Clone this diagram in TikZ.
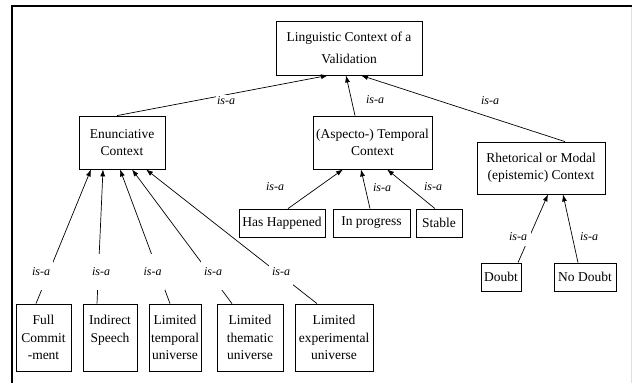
\documentclass[tikz,border=0pt]{standalone}
\usepackage{fontspec}
\setmainfont{Liberation Serif}
\usetikzlibrary{arrows.meta}

\tikzset{
  concept/.style={draw, line width=.8pt, inner sep=0pt, align=center,
                  font=\fontsize{13.5}{17.5}\selectfont},
  isa/.style={fill=white, inner sep=1.5pt, font=\fontsize{12}{14}\selectfont\itshape},
  isagap/.style={isa, inner xsep=3pt, minimum height=36pt},
  isaline/.style={line width=.7pt, -{Latex[length=7pt,width=5pt]}},
}

\begin{document}
\begin{tikzpicture}  % ------ Linguistic context of a validation -----------
      [x=1pt, y=-1pt]
    \useasboundingbox (0,0) rectangle (632,383);
    \draw[line width=1.2pt] (12,383) -- (12,6) -- (632,6);
    \draw[black!12] (631,7) -- (631,383);
    % concepts
    \node[concept, minimum width=146pt, minimum height=54pt] (ling) at (349,48)
         {Linguistic Context of a\\[4pt]Validation};
    \node[concept, minimum width=86pt, minimum height=53pt] (enun) at (122,142.5)
         {Enunciative\\Context};
    \node[concept, minimum width=119pt, minimum height=53pt] (aspe) at (372.5,142.5)
         {(Aspecto-) Temporal\\Context};
    \node[concept, minimum width=128pt, minimum height=52pt] (rhet) at (541,168)
         {Rhetorical or Modal\\(epistemic) Context};
    \node[concept, minimum width=86pt, minimum height=28pt] (hapn) at (282,223) {Has Happened};
    \node[concept, minimum width=77pt, minimum height=28pt] (prog) at (371.5,223) {In progress};
    \node[concept, minimum width=46pt, minimum height=28pt] (stab) at (439,223) {Stable};
    \node[concept, minimum width=40pt, minimum height=28pt] (doub) at (501,277) {Doubt};
    \node[concept, minimum width=62pt, minimum height=28pt] (nodb) at (585,277) {No Doubt};
    \node[concept, minimum width=55pt, minimum height=67pt] (full) at (43.5,337.5)
         {Full\\Commit\\-ment};
    \node[concept, minimum width=54pt, minimum height=67pt] (indi) at (110,337.5)
         {Indirect\\Speech\\\mbox{}};
    \node[concept, minimum width=52pt, minimum height=67pt] (ltem) at (175,337.5)
         {Limited\\temporal\\universe};
    \node[concept, minimum width=66pt, minimum height=67pt] (lthe) at (250,337.5)
         {Limited\\thematic\\universe};
    \node[concept, minimum width=78pt, minimum height=67pt] (lexp) at (334,337.5)
         {Limited\\experimental\\universe};
    % is-a links
    \draw[isaline] ([xshift=-5pt]enun.north) -- ([xshift=-21pt]ling.south);
    \draw[isaline] ([xshift=-17.5pt]aspe.north) -- ([xshift=-3pt]ling.south);
    \draw[isaline] ([xshift=24pt]rhet.north) -- ([xshift=12pt]ling.south);
    \draw[isaline] ([xshift=-7.5pt]full.north) -- ([xshift=-31pt]enun.south);
    \draw[isaline] ([xshift=-13pt]indi.north) -- ([xshift=-19pt]enun.south);
    \draw[isaline] ([xshift=-5pt]ltem.north) -- ([xshift=-2pt]enun.south);
    \draw[isaline] ([xshift=-18pt]lthe.north) -- ([xshift=10pt]enun.south);
    \draw[isaline] ([xshift=-17pt]lexp.north) -- ([xshift=24pt]enun.south);
    \draw[isaline] ([xshift=6pt]hapn.north) -- ([xshift=-29.5pt]aspe.south);
    \draw[isaline] ([xshift=-1.5pt]prog.north) -- ([xshift=-11.5pt]aspe.south);
    \draw[isaline] ([xshift=-4pt]stab.north) -- ([xshift=14.5pt]aspe.south);
    \draw[isaline] ([xshift=17pt]doub.north) -- ([xshift=7pt]rhet.south);
    \draw[isaline] ([xshift=-7pt]nodb.north) -- ([xshift=22pt]rhet.south);
    % is-a labels
    \node[isa] (l1) at (226,101) {is-a};
    \node[isa] (l2) at (375,100) {is-a};
    \node[isa] (l3) at (490,101) {is-a};
    \node[isagap] (l4) at (41,272) {is-a};
    \node[isagap] (l5) at (101,272) {is-a};
    \node[isagap] (l6) at (152.5,272) {is-a};
    \node[isagap] (l7) at (213,272) {is-a};
    \node[isagap] (l8) at (281,272) {is-a};
    \node[isa] (l9) at (275,187) {is-a};
    \node[isa] (l10) at (382,188) {is-a};
    \node[isa] (l11) at (433,187) {is-a};
    \node[isa, inner xsep=4pt, inner ysep=5pt] (l12) at (518,237) {is-a};
    \node[isa] (l13) at (589,237) {is-a};
\end{tikzpicture}
\end{document}
